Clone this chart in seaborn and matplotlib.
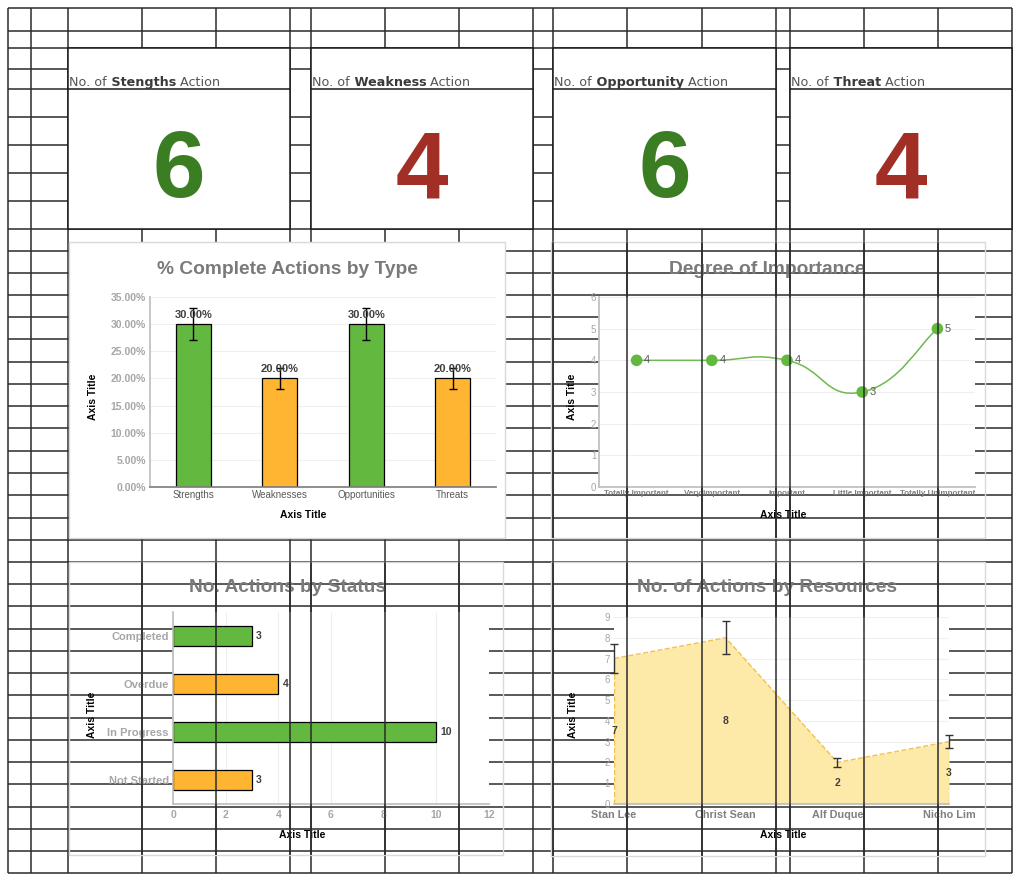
import numpy as np
import seaborn as sns
import matplotlib.pyplot as plt
from matplotlib.patches import Rectangle, PathPatch
from matplotlib.path import Path

# ---- data ----
kpi_names = ['Stengths', 'Weakness', 'Opportunity', 'Threat']
kpi_values = [6, 4, 6, 4]

type_cats = ['Strengths', 'Weaknesses', 'Opportunities', 'Threats']
type_pct = [30, 20, 30, 20]
type_err = [3, 2, 3, 2]

imp_cats = ['Totally Important', 'Very Important', 'Important',
            'Little Important', 'Totally Unimportant']
imp_vals = [4, 4, 4, 3, 5]

status_cats = ['Completed', 'Overdue', 'In Progress', 'Not Started']
status_vals = [3, 4, 10, 3]

res_cats = ['Stan Lee', 'Christ Sean', 'Alf Duque', 'Nicho Lim']
res_vals = [7, 8, 2, 3]
res_err = [0.7, 0.8, 0.2, 0.3]

GREEN = '#63b840'
ORANGE = '#ffb531'
KPI_GREEN = '#3b7d23'
KPI_RED = '#a12f26'
LINE = '#2b2b2b'

sns.set_theme(style='white')
plt.rcParams['font.family'] = ['Liberation Sans', 'DejaVu Sans']

W, H = 1021, 883
fig = plt.figure(figsize=(W / 100, H / 100), dpi=100)
bg = fig.add_axes([0, 0, 1, 1])
bg.set_xlim(0, W)
bg.set_ylim(H, 0)
bg.axis('off')

# spreadsheet grid
col_x = [8, 31, 68, 142, 216, 290, 311, 385, 459, 533, 553, 627, 702, 776,
         790, 864, 938, 1012]
row_y = [8, 31, 48, 69, 89, 117, 145, 173, 201, 229, 251, 273, 295, 317,
         339, 362, 384, 406, 428, 451, 473, 495, 518, 540, 562, 584, 606,
         629, 651, 673, 695, 718, 740, 762, 784, 807, 829, 851, 873]
bg.vlines(col_x, row_y[0], row_y[-1], color=LINE, lw=1.1, zorder=1)
bg.hlines([y for y in row_y if y != 89], col_x[0], col_x[-1], color=LINE,
          lw=1.1, zorder=1)
bg.hlines(89, col_x[0], col_x[2], color=LINE, lw=1.1, zorder=1)

# KPI cells (merged)
kpi_boxes = [(68, 290), (311, 533), (553, 776), (790, 1012)]
for (x0, x1), name, val in zip(kpi_boxes, kpi_names, kpi_values):
    bg.add_patch(Rectangle((x0, 48), x1 - x0, 229 - 48, facecolor='white',
                           edgecolor='#1a1a1a', lw=1.1, zorder=2))
    bg.hlines(89, x0, x1, color='#1a1a1a', lw=1.1, zorder=2)
    t1 = bg.text(x0 + 1, 86, 'No. of', family='DejaVu Sans', fontsize=9.2,
                 color='#555555', va='baseline', ha='left', zorder=3)
    t2 = bg.annotate(' ' + name, xy=(1, 0), xycoords=t1, family='DejaVu Sans',
                     fontsize=9.2, fontweight='bold', color='#3a3a3a',
                     va='bottom', ha='left', zorder=3)
    bg.annotate(' Action', xy=(1, 0), xycoords=t2, family='DejaVu Sans',
                fontsize=9.2, color='#555555', va='bottom', ha='left', zorder=3)
    bg.text((x0 + x1) / 2, 197, str(val), fontsize=68, fontweight='bold',
            color=KPI_GREEN if val == 6 else KPI_RED, ha='center',
            va='baseline', zorder=3)

# chart frames
bg.add_patch(Rectangle((69, 242), 436, 296, facecolor='white',
                       edgecolor='#d9d9d9', lw=1, zorder=3))
clear_charts = [(551, 242, 985, 538), (69, 562, 503, 855),
                (551, 562, 985, 856)]
for (x0, y0, x1, y1) in clear_charts:
    bg.add_patch(Rectangle((x0, y0), x1 - x0, y1 - y0, facecolor='none',
                           edgecolor='#d9d9d9', lw=1, zorder=3))

title_kw = dict(fontsize=13.8, fontweight='bold', color='#7a7a7a',
                ha='center', va='center', zorder=4)
bg.text(287, 269, '% Complete Actions by Type', **title_kw)
bg.text(767, 269, 'Degree of Importance', **title_kw)
bg.text(287, 588, 'No. Actions by Status', **title_kw)
bg.text(767, 588, 'No. of Actions by Resources', **title_kw)

lab_kw = dict(fontsize=7.5, fontweight='bold', color='black',
              ha='center', va='center', zorder=4)
for (xx, xy), (yx, yy) in [((303, 515), (93, 397)), ((783, 515), (572, 397)),
                           ((302, 835), (92, 715)), ((783, 835), (573, 715))]:
    bg.text(xx, xy, 'Axis Title', **lab_kw)
    bg.text(yx, yy, 'Axis Title', rotation=90, **lab_kw)


def px_axes(x0, y0, x1, y1):
    return fig.add_axes([x0 / W, 1 - y1 / H, (x1 - x0) / W, (y1 - y0) / H])


def style(ax):
    for s in ['top', 'right']:
        ax.spines[s].set_visible(False)
    ax.spines['left'].set_color('#bfbfbf')
    ax.spines['bottom'].set_color('#bfbfbf')
    ax.tick_params(length=0)
    ax.set_xlabel('')
    ax.set_ylabel('')
    ax.set_axisbelow(True)


# ---- chart 1: % complete by type ----
ax1 = px_axes(150, 297, 496, 487)
sns.barplot(x=type_cats, y=type_pct, hue=type_cats,
            palette=[GREEN, ORANGE, GREEN, ORANGE], legend=False, width=0.4,
            saturation=1, edgecolor='black', linewidth=0.9, ax=ax1)
ax1.errorbar(range(len(type_cats)), type_pct, yerr=type_err, fmt='none',
             ecolor='black', elinewidth=1, capsize=3, capthick=1)
for i, v in enumerate(type_pct):
    ax1.annotate(f'{v:.2f}%', (i, v), xytext=(0, 3), textcoords='offset points',
                 ha='center', va='bottom', fontsize=8, fontweight='bold',
                 color='#404040')
style(ax1)
ax1.spines['bottom'].set_color('#808080')
ax1.set_xlim(-0.5, 3.5)
ax1.set_ylim(0, 35)
yt = np.arange(0, 36, 5)
ax1.set_yticks(yt)
ax1.set_yticklabels([f'{v:.2f}%' for v in yt], fontsize=7.5, fontweight='bold',
                    color='#a6a6a6')
ax1.set_xticks(range(len(type_cats)))
ax1.set_xticklabels(type_cats, fontsize=7, color='#595959')
ax1.tick_params(axis='y', pad=3)
ax1.tick_params(axis='x', pad=2)
ax1.yaxis.grid(True, color='#efefef', lw=0.8)

# ---- chart 2: degree of importance ----
ax2 = px_axes(599, 297, 975, 487)
xs = np.arange(len(imp_cats))


def smooth_path(px, py, k=0.25):
    pts = np.column_stack([px, py]).astype(float)
    verts, codes = [pts[0]], [Path.MOVETO]
    n = len(pts)
    for i in range(n - 1):
        p0 = pts[i - 1] if i > 0 else pts[i]
        p1, p2 = pts[i], pts[i + 1]
        p3 = pts[i + 2] if i + 2 < n else p2
        verts += [p1 + (p2 - p0) * k, p2 - (p3 - p1) * k, p2]
        codes += [Path.CURVE4] * 3
    return Path(verts, codes)


ax2.add_patch(PathPatch(smooth_path(xs, imp_vals), facecolor='none',
                        edgecolor='#70b850', lw=1.1, zorder=2))
sns.scatterplot(x=xs, y=imp_vals, color=GREEN, s=70, edgecolor='none',
                ax=ax2, zorder=3)
for x, v in zip(xs, imp_vals):
    ax2.annotate(str(v), (x, v), xytext=(5.5, 0), textcoords='offset points',
                 ha='left', va='center', fontsize=8, color='#595959')
style(ax2)
ax2.set_xlim(-0.5, 4.5)
ax2.set_ylim(0, 6)
ax2.set_yticks(range(7))
ax2.set_yticklabels([str(v) for v in range(7)], fontsize=7, color='#a6a6a6')
ax2.set_xticks(xs)
ax2.set_xticklabels(imp_cats, fontsize=5.8, fontweight='bold', color='#7f7f7f')
ax2.tick_params(axis='y', pad=2)
ax2.tick_params(axis='x', pad=2)
ax2.yaxis.grid(True, color='#efefef', lw=0.8)

# ---- chart 3: actions by status ----
ax3 = px_axes(173, 612, 489, 804)
sns.barplot(x=status_vals, y=status_cats, hue=status_cats,
            palette=[GREEN, ORANGE, GREEN, ORANGE], legend=False, orient='h',
            width=0.4, saturation=1, edgecolor='black', linewidth=0.9, ax=ax3)
for i, v in enumerate(status_vals):
    ax3.annotate(str(v), (v, i), xytext=(3, 0), textcoords='offset points',
                 ha='left', va='center', fontsize=7.5, fontweight='bold',
                 color='#404040')
style(ax3)
ax3.set_xlim(0, 12)
ax3.set_ylim(len(status_cats) - 0.5, -0.5)
xt = np.arange(0, 13, 2)
ax3.set_xticks(xt)
ax3.set_xticklabels([str(v) for v in xt], fontsize=7.5, fontweight='bold',
                    color='#a6a6a6')
ax3.set_yticks(range(len(status_cats)))
ax3.set_yticklabels(status_cats, fontsize=8, fontweight='bold',
                    color='#a6a6a6')
ax3.tick_params(axis='y', pad=3)
ax3.tick_params(axis='x', pad=4)
ax3.xaxis.grid(True, color='#efefef', lw=0.8)

# ---- chart 4: actions by resources ----
ax4 = px_axes(614, 617, 949, 804)
xr = np.arange(len(res_cats))
ax4.fill_between(xr, res_vals, color='#fde9a8', lw=0, zorder=2)
sns.lineplot(x=xr, y=res_vals, color='#f2c14e', lw=1, linestyle='--',
             ax=ax4, zorder=3)
ax4.vlines([xr[0], xr[-1]], 0, [res_vals[0], res_vals[-1]], color='#f2c14e',
           lw=1, linestyles='--', zorder=3)
ax4.errorbar(xr, res_vals, yerr=res_err, fmt='none', ecolor='#333333',
             elinewidth=1, capsize=3, capthick=1, clip_on=False, zorder=4)
for x, v in zip(xr, res_vals):
    ax4.text(x, v / 2, str(v), ha='center', va='center', fontsize=7.5,
             fontweight='bold', color='#404040', zorder=5)
style(ax4)
ax4.spines['left'].set_visible(False)
ax4.set_xlim(0, 3)
ax4.set_ylim(0, 9)
ax4.set_yticks(range(10))
ax4.set_yticklabels([str(v) for v in range(10)], fontsize=7, color='#a6a6a6')
ax4.set_xticks(xr)
ax4.set_xticklabels(res_cats, fontsize=7.8, fontweight='bold', color='#808080')
ax4.tick_params(axis='y', pad=3)
ax4.tick_params(axis='x', pad=4)
ax4.yaxis.grid(True, color='#efefef', lw=0.8)

# sheet column lines show on top of the three see-through charts
top = fig.add_axes([0, 0, 1, 1])
top.set_xlim(0, W)
top.set_ylim(H, 0)
top.axis('off')
for (x0, y0, x1, y1) in clear_charts:
    top.vlines([x for x in col_x if x0 < x < x1], y0, y1, color=LINE, lw=1.1)

fig.savefig('out.png', dpi=100)
